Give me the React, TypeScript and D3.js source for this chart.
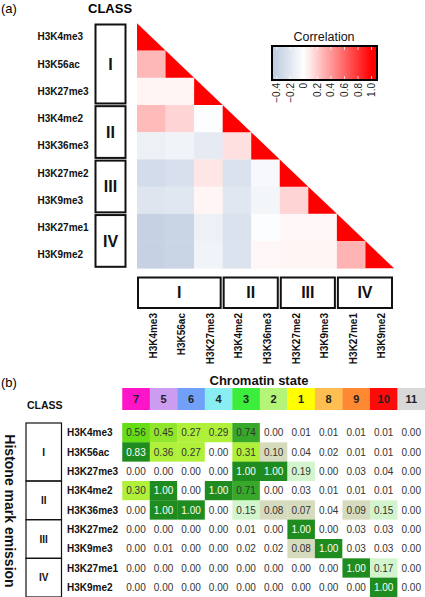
import React from "react";
import * as d3 from "d3";

// ---------- data ----------
const marks = ["H3K4me3", "H3K56ac", "H3K27me3", "H3K4me2", "H3K36me3", "H3K27me2", "H3K9me3", "H3K27me1", "H3K9me2"];
const classNames = ["I", "II", "III", "IV"];
const classSizes = [3, 2, 2, 2];

// lower-triangle correlations (row i, columns 0..i-1)
const corrRows: number[][] = [
  [],
  [0.28],
  [0.04, 0.04],
  [0.27, 0.17, -0.02],
  [-0.12, -0.1, -0.17, 0.12],
  [-0.3, -0.26, 0.1, -0.25, -0.06],
  [-0.22, -0.2, 0.04, -0.2, -0.08, 0.17],
  [-0.38, -0.36, -0.12, -0.25, -0.02, 0.03, 0.03],
  [-0.38, -0.36, -0.1, -0.24, 0.03, 0.04, 0.04, 0.3],
];
const legendTicks = [-0.4, -0.2, 0, 0.2, 0.4, 0.6, 0.8, 1.0];
const legendTickLabels = ["\u22120.4", "\u22120.2", "0", "0.2", "0.4", "0.6", "0.8", "1.0"];

const states = ["7", "5", "6", "4", "3", "2", "1", "8", "9", "10", "11"];
const stateColors = ["#ff14c8", "#cc9cf0", "#70a0f8", "#88eef2", "#3cee3c", "#b4f478", "#ffff00", "#ffbe50", "#ff8833", "#ff0a0a", "#d8d8d8"];

const emission: number[][] = [
  [0.56, 0.45, 0.27, 0.29, 0.74, 0.0, 0.01, 0.01, 0.01, 0.01, 0.0],
  [0.83, 0.36, 0.27, 0.0, 0.31, 0.1, 0.04, 0.02, 0.01, 0.01, 0.0],
  [0.0, 0.0, 0.0, 0.0, 1.0, 1.0, 0.19, 0.0, 0.03, 0.04, 0.0],
  [0.3, 1.0, 0.0, 1.0, 0.71, 0.0, 0.03, 0.01, 0.01, 0.01, 0.0],
  [0.0, 1.0, 1.0, 0.0, 0.15, 0.08, 0.07, 0.04, 0.09, 0.15, 0.0],
  [0.0, 0.0, 0.0, 0.0, 0.01, 0.0, 1.0, 0.0, 0.03, 0.03, 0.0],
  [0.0, 0.01, 0.0, 0.0, 0.02, 0.02, 0.08, 1.0, 0.03, 0.03, 0.0],
  [0.0, 0.0, 0.0, 0.0, 0.0, 0.0, 0.0, 0.0, 1.0, 0.17, 0.0],
  [0.0, 0.0, 0.0, 0.0, 0.0, 0.0, 0.0, 0.0, 0.0, 1.0, 0.0],
];

const FONT = "'Liberation Sans', Arial, Helvetica, sans-serif";

export default function App() {
  // ----- panel (a) scales -----
  const hx = d3.scaleBand<string>().domain(marks).range([137, 394]);
  const hy = d3.scaleBand<string>().domain(marks).range([23.3, 268.3]);
  const corrColor = d3.scaleLinear<string>().domain([-0.45, 0, 1]).range(["#bccadf", "#ffffff", "#ff0000"]).clamp(true);
  const legX = d3.scaleLinear().domain([-0.47, 1.08]).range([272, 377]);
  const legendTop = 46;
  const legendBottom = 80;

  // class groups
  const groups: { name: string; start: number; end: number }[] = [];
  let acc = 0;
  classNames.forEach((n, i) => {
    groups.push({ name: n, start: acc, end: acc + classSizes[i] - 1 });
    acc += classSizes[i];
  });

  // ----- panel (b) scales -----
  const tx = d3.scaleBand<string>().domain(states).range([122.25, 425]);
  const ty = d3.scaleBand<string>().domain(marks).range([423, 597]);
  const emisColor = d3
    .scaleThreshold<number, string>()
    .domain([0.05, 0.13, 0.22, 0.4, 0.5, 0.65, 0.8])
    .range(["#ffffff", "#d7dbbd", "#d3f5cd", "#b0f03a", "#90e62a", "#66dd14", "#38a82a", "#1e8c1e"]);

  const gradStops = d3.range(0, 1.0001, 0.05).map((t) => {
    const v = legX.invert(272 + t * 105);
    return { off: t, c: corrColor(v) };
  });

  return (
    <svg width={425} height={597} style={{ position: "absolute", left: 0, top: 0, background: "#fff" }} fontFamily={FONT}>
      <defs>
        <linearGradient id="corrGrad" x1="0" x2="1" y1="0" y2="0">
          {gradStops.map((s, i) => (
            <stop key={i} offset={s.off} stopColor={s.c} />
          ))}
        </linearGradient>
      </defs>

      {/* ===== panel (a) ===== */}
      <text x={1} y={13} fontSize={13}>(a)</text>
      <text x={88} y={13} fontSize={13} fontWeight="bold">CLASS</text>

      {/* heatmap cells */}
      {corrRows.map((row, i) =>
        row.map((v, j) => (
          <rect
            key={`c${i}-${j}`}
            x={hx(marks[j])!}
            y={hy(marks[i])!}
            width={hx.bandwidth() + 0.3}
            height={hy.bandwidth() + 0.3}
            fill={corrColor(v)}
          />
        ))
      )}
      {/* diagonal triangles */}
      {marks.map((m) => {
        const x0 = hx(m)!;
        const y0 = hy(m)!;
        const w = hx.bandwidth();
        const h = hy.bandwidth();
        return <path key={`t${m}`} d={`M${x0},${y0}L${x0},${y0 + h}L${x0 + w},${y0 + h}Z`} fill="#ff0000" />;
      })}

      {/* row labels */}
      {marks.map((m) => (
        <text key={`rl${m}`} x={37.5} y={hy(m)! + hy.bandwidth() / 2} dy="0.35em" fontSize={10} fontWeight="bold" fill="#111">
          {m}
        </text>
      ))}

      {/* left class boxes */}
      {groups.map((g) => {
        const y0 = hy(marks[g.start])! + 1.2;
        const y1 = hy(marks[g.end])! + hy.bandwidth() - 1.5;
        return (
          <g key={`lb${g.name}`}>
            <rect x={95.5} y={y0} width={30} height={y1 - y0} fill="none" stroke="#111" strokeWidth={2} />
            <text x={110.5} y={(y0 + y1) / 2} dy="0.36em" textAnchor="middle" fontSize={16} fontWeight="bold" fill="#111">
              {g.name}
            </text>
          </g>
        );
      })}

      {/* bottom class boxes */}
      {groups.map((g) => {
        const x0 = hx(marks[g.start])! + 1;
        const x1 = hx(marks[g.end])! + hx.bandwidth() - 2;
        return (
          <g key={`bb${g.name}`}>
            <rect x={x0} y={277.5} width={x1 - x0} height={30.5} fill="none" stroke="#111" strokeWidth={2} />
            <text x={(x0 + x1) / 2} y={292.7} dy="0.36em" textAnchor="middle" fontSize={16} fontWeight="bold" fill="#111">
              {g.name}
            </text>
          </g>
        );
      })}

      {/* bottom rotated labels */}
      {marks.map((m) => {
        const cx = hx(m)! + hx.bandwidth() / 2 + 2;
        return (
          <text
            key={`bl${m}`}
            transform={`translate(${cx},313) rotate(-90)`}
            dy="0.35em"
            textAnchor="end"
            fontSize={10}
            fontWeight="bold"
            fill="#111"
          >
            {m}
          </text>
        );
      })}

      {/* legend */}
      <text x={324} y={41} textAnchor="middle" fontSize={12.5} fill="#111">Correlation</text>
      <rect x={272} y={legendTop} width={105} height={legendBottom - legendTop} fill="url(#corrGrad)" />
      {legendTicks.map((t) => (
        <g key={`lt${t}`}>
          <line x1={legX(t)} x2={legX(t)} y1={legendTop} y2={legendTop + 4} stroke="#fff" strokeWidth={0.8} />
          <line x1={legX(t)} x2={legX(t)} y1={legendBottom - 4} y2={legendBottom} stroke="#fff" strokeWidth={0.8} />
        </g>
      ))}
      <rect x={272} y={legendTop} width={105} height={legendBottom - legendTop} fill="none" stroke="#000" strokeWidth={2} />
      {legendTicks.map((t, i) => (
        <text
          key={`ltl${t}`}
          transform={`translate(${legX(t)},83) rotate(-90)`}
          dy="0.35em"
          textAnchor="end"
          fontSize={10}
          fill="#222"
        >
          {legendTickLabels[i]}
        </text>
      ))}

      {/* ===== panel (b) ===== */}
      <text x={1} y={387} fontSize={13}>(b)</text>
      <text x={259} y={384.5} textAnchor="middle" fontSize={13} fontWeight="bold" fill="#111">Chromatin state</text>
      <text x={27} y={409} fontSize={10.5} fontWeight="bold" fill="#111">CLASS</text>

      {/* header */}
      {states.map((s, i) => (
        <g key={`h${s}`}>
          <rect x={tx(s)!} y={388} width={tx.bandwidth() + 0.3} height={22} fill={stateColors[i]} />
          <text x={tx(s)! + tx.bandwidth() / 2} y={399} dy="0.36em" textAnchor="middle" fontSize={11} fontWeight="bold" fill="#222">
            {s}
          </text>
        </g>
      ))}

      {/* emission cells */}
      {emission.map((row, i) =>
        row.map((v, j) => {
          const x0 = tx(states[j])!;
          const y0 = ty(marks[i])!;
          return (
            <g key={`e${i}-${j}`}>
              <rect x={x0} y={y0} width={tx.bandwidth() + 0.3} height={ty.bandwidth() + 0.3} fill={emisColor(v)} />
              <text
                x={x0 + tx.bandwidth() / 2}
                y={y0 + ty.bandwidth() / 2}
                dy="0.36em"
                textAnchor="middle"
                fontSize={10}
                fill={v >= 0.8 ? "#ffffff" : "#333"}
              >
                {d3.format(".2f")(v)}
              </text>
            </g>
          );
        })
      )}

      {/* table row labels */}
      {marks.map((m) => (
        <text key={`tl${m}`} x={67} y={ty(m)! + ty.bandwidth() / 2} dy="0.35em" fontSize={10} fontWeight="bold" fill="#111">
          {m}
        </text>
      ))}

      {/* table class boxes */}
      {groups.map((g) => {
        const y0 = ty(marks[g.start])!;
        const y1 = ty(marks[g.end])! + ty.bandwidth();
        return (
          <g key={`tb${g.name}`}>
            <rect x={26} y={y0} width={35.5} height={y1 - y0} fill="none" stroke="#111" strokeWidth={1.2} />
            <text x={43.7} y={(y0 + y1) / 2} dy="0.36em" textAnchor="middle" fontSize={10} fontWeight="bold" fill="#111">
              {g.name}
            </text>
          </g>
        );
      })}

      {/* vertical axis title */}
      <text transform="translate(10,511) rotate(90)" textAnchor="middle" dy="0.35em" fontSize={14} fontWeight="bold" fill="#111">
        Histone mark emission
      </text>
    </svg>
  );
}
